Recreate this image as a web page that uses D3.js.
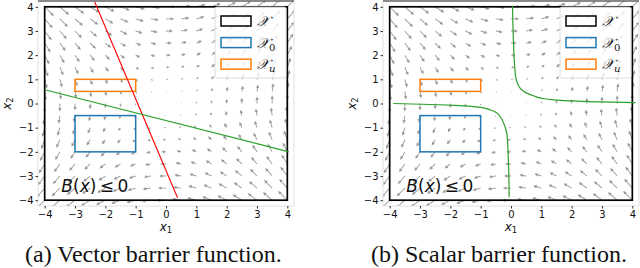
<!DOCTYPE html>
<html><head><meta charset="utf-8">
<script src="https://cdn.jsdelivr.net/npm/d3@7"></script>
<style>
body{margin:0;background:#fff}
svg text{font-family:"DejaVu Sans",sans-serif;fill:#111}
</style></head><body>
<script>
// tick labels and quiver grid
var ticks = [-4, -3, -2, -1, 0, 1, 2, 3, 4];
var gridX = [-4, -3.5, -3, -2.5, -2, -1.5, -1, -0.5, 0, 0.5, 1, 1.5, 2, 2.5, 3, 3.5, 4];
var gridY = [4, 3.5, 3, 2.5, 2, 1.5, 1, 0.5, 0, -0.5, -1, -1.5, -2, -2.5, -3, -3.5, -4];

// panel (a) field, rows top (x2=4) to bottom (x2=-4), columns x1=-4..4
var uA = [
  [4,4,4,4,4,4,4,4,4,4,4,4,4,4,4,4,4],
  [3.5,3.5,3.5,3.5,3.5,3.5,3.5,3.5,3.5,3.5,3.5,3.5,3.5,3.5,3.5,3.5,3.5],
  [3,3,3,3,3,3,3,3,3,3,3,3,3,3,3,3,3],
  [2.5,2.5,2.5,2.5,2.5,2.5,2.5,2.5,2.5,2.5,2.5,2.5,2.5,2.5,2.5,2.5,2.5],
  [2,2,2,2,2,2,2,2,2,2,2,2,2,2,2,2,2],
  [1.5,1.5,1.5,1.5,1.5,1.5,1.5,1.5,1.5,1.5,1.5,1.5,1.5,1.5,1.5,1.5,1.5],
  [1,1,1,1,1,1,1,1,1,1,1,1,1,1,1,1,1],
  [0.5,0.5,0.5,0.5,0.5,0.5,0.5,0.5,0.5,0.5,0.5,0.5,0.5,0.5,0.5,0.5,0.5],
  [0,0,0,0,0,0,0,0,0,0,0,0,0,0,0,0,0],
  [-0.5,-0.5,-0.5,-0.5,-0.5,-0.5,-0.5,-0.5,-0.5,-0.5,-0.5,-0.5,-0.5,-0.5,-0.5,-0.5,-0.5],
  [-1,-1,-1,-1,-1,-1,-1,-1,-1,-1,-1,-1,-1,-1,-1,-1,-1],
  [-1.5,-1.5,-1.5,-1.5,-1.5,-1.5,-1.5,-1.5,-1.5,-1.5,-1.5,-1.5,-1.5,-1.5,-1.5,-1.5,-1.5],
  [-2,-2,-2,-2,-2,-2,-2,-2,-2,-2,-2,-2,-2,-2,-2,-2,-2],
  [-2.5,-2.5,-2.5,-2.5,-2.5,-2.5,-2.5,-2.5,-2.5,-2.5,-2.5,-2.5,-2.5,-2.5,-2.5,-2.5,-2.5],
  [-3,-3,-3,-3,-3,-3,-3,-3,-3,-3,-3,-3,-3,-3,-3,-3,-3],
  [-3.5,-3.5,-3.5,-3.5,-3.5,-3.5,-3.5,-3.5,-3.5,-3.5,-3.5,-3.5,-3.5,-3.5,-3.5,-3.5,-3.5],
  [-4,-4,-4,-4,-4,-4,-4,-4,-4,-4,-4,-4,-4,-4,-4,-4,-4]
];
var vRow = [-4,-3.5,-3,-2.5,-2,-1.5,-1,-0.5,0,0.5,1,1.5,2,2.5,3,3.5,4];
var vA = [vRow,vRow,vRow,vRow,vRow,vRow,vRow,vRow,vRow,vRow,vRow,vRow,vRow,vRow,vRow,vRow,vRow];

// panel (b) field looks the same at this size
var uB = uA;
var vB = vA;

// sets: [x1min, x1max, x2min, x2max]
var setX = [-4, 4, -4, 4];
var setX0 = [-3, -1, -2, -0.5];
var setXu = [-3, -1, 0.5, 1];

// barrier zero level sets
var redLineA = [[-2.35, 4.2], [0.38, -3.9]];
var greenLineA = [[-4, 0.57], [4.05, -2.0]];
var greenLeftB = [[-3.88, 0.0], [-2.95, -0.03], [-1.86, -0.08], [-1.3, -0.12], [-1.0, -0.16], [-0.7, -0.26],
  [-0.49, -0.37], [-0.33, -0.6], [-0.2, -0.95], [-0.13, -1.3], [-0.09, -2.2], [-0.06, -3.88]];
var greenRightB = [[0.05, 4.04], [0.08, 2.6], [0.11, 1.76], [0.16, 1.07], [0.3, 0.64], [0.5, 0.44], [0.76, 0.31],
  [1.0, 0.22], [1.42, 0.15], [2.5, 0.08], [4.1, 0.04]];

var legendNames = ["\u{1D4B3}", "\u{1D4B3}", "\u{1D4B3}"];
var legendSubs = ["", "0", "u"];
var captions = ["(a) Vector barrier function.", "(b) Scalar barrier function."];

var svg = d3.select("body").append("svg").attr("width", 640).attr("height", 268);

var axTop = 1, axBottom = 206;
var panels = [
  { left: 38, right: 294, u: uA, v: vA, cap: captions[0], capX: 25, id: "a" },
  { left: 383, right: 639, u: uB, v: vB, cap: captions[1], capX: 371, id: "b" }
];

function arrowPath(x0, y0, dx, dy) {
  var L = Math.sqrt(dx * dx + dy * dy);
  if (L < 0.01) return "";
  var ex = dx / L, ey = dy / L, nx = -ey, ny = ex;
  var s = Math.min(1, L / 5);           // shrink short arrows
  var w = 0.45 * s, hw = 1.7 * s, hl = 3.4 * s;
  var neck = L - hl;
  var pts = [
    [x0 + nx * w, y0 + ny * w],
    [x0 + ex * neck + nx * w, y0 + ey * neck + ny * w],
    [x0 + ex * neck + nx * hw, y0 + ey * neck + ny * hw],
    [x0 + dx, y0 + dy],
    [x0 + ex * neck - nx * hw, y0 + ey * neck - ny * hw],
    [x0 + ex * neck - nx * w, y0 + ey * neck - ny * w],
    [x0 - nx * w, y0 - ny * w]
  ];
  return "M" + pts.map(function (p) { return p[0].toFixed(2) + "," + p[1].toFixed(2); }).join("L") + "Z";
}

function fmt(d) { return d < 0 ? "\u2212" + (-d) : "" + d; }

panels.forEach(function (p) {
  var x = d3.scaleLinear().domain([-4.22, 4.22]).range([p.left, p.right]);
  var y = d3.scaleLinear().domain([-4.24, 4.24]).range([axBottom, axTop]);
  var g = svg.append("g");

  g.append("clipPath").attr("id", "clip" + p.id).append("rect")
    .attr("x", p.left).attr("y", axTop).attr("width", p.right - p.left).attr("height", axBottom - axTop);

  // quiver
  var k = 2.3;
  var arrows = [];
  gridY.forEach(function (gy, i) {
    gridX.forEach(function (gx, j) {
      arrows.push({ x: gx, y: gy, u: p.u[i][j], v: p.v[i][j] });
    });
  });
  g.append("g").attr("clip-path", "url(#clip" + p.id + ")")
    .selectAll("path").data(arrows).enter().append("path")
    .attr("d", function (d) { return arrowPath(x(d.x), y(d.y), d.u * k, -d.v * k); })
    .attr("fill", "#777").attr("fill-opacity", 0.75);

  // spines
  g.append("rect").attr("x", p.left).attr("y", axTop).attr("width", p.right - p.left).attr("height", axBottom - axTop)
    .attr("fill", "none").attr("stroke", "#e2e2e2").attr("stroke-width", 1);
  g.append("line").attr("x1", p.left).attr("x2", p.right).attr("y1", axTop).attr("y2", axTop)
    .attr("stroke", "#222").attr("stroke-width", 1.2);

  // sets
  function box(s, color, lw) {
    g.append("rect").attr("x", x(s[0])).attr("y", y(s[3]))
      .attr("width", x(s[1]) - x(s[0])).attr("height", y(s[2]) - y(s[3]))
      .attr("fill", "none").attr("stroke", color).attr("stroke-width", lw);
  }
  box(setX, "#000", 1.7);
  box(setX0, "#1f77b4", 1.5);
  box(setXu, "#ff7f0e", 1.5);

  var line = d3.line().x(function (d) { return x(d[0]); }).y(function (d) { return y(d[1]); });
  var cg = g.append("g").attr("clip-path", "url(#clip" + p.id + ")");
  if (p.id === "a") {
    cg.append("path").attr("d", line(redLineA)).attr("fill", "none").attr("stroke", "#f00").attr("stroke-width", 1.1);
    cg.append("path").attr("d", line(greenLineA)).attr("fill", "none").attr("stroke", "#2ca02c").attr("stroke-width", 1.2);
  } else {
    var sm = d3.line().curve(d3.curveMonotoneY).x(function (d) { return x(d[0]); }).y(function (d) { return y(d[1]); });
    cg.append("path").attr("d", sm(greenLeftB)).attr("fill", "none").attr("stroke", "#2ca02c").attr("stroke-width", 1.2);
    cg.append("path").attr("d", sm(greenRightB)).attr("fill", "none").attr("stroke", "#2ca02c").attr("stroke-width", 1.2);
  }

  // legend
  var lx = p.right - 79, ly = axTop + 6;
  var lg = g.append("g");
  lg.append("rect").attr("x", lx).attr("y", ly).attr("width", 71).attr("height", 71).attr("rx", 2)
    .attr("fill", "#fff").attr("fill-opacity", 0.8).attr("stroke", "#d6d6d6").attr("stroke-width", 0.8);
  var lcol = ["#000", "#1f77b4", "#ff7f0e"];
  legendNames.forEach(function (name, i) {
    lg.append("rect").attr("x", lx + 6).attr("y", ly + 9 + i * 21.6).attr("width", 30).attr("height", 10)
      .attr("fill", "none").attr("stroke", lcol[i]).attr("stroke-width", 1.5);
    var t = lg.append("text").attr("x", lx + 42).attr("y", ly + 19 + i * 21.6)
      .style("font-family", "'DejaVu Serif', serif").style("font-size", "14px").style("font-style", "italic");
    t.append("tspan").text(name);
    if (legendSubs[i]) t.append("tspan").attr("dy", 3).style("font-size", "10px")
      .style("font-style", legendSubs[i] === "u" ? "italic" : "normal").text(legendSubs[i]);
  });

  // region label
  var bt = g.append("text").attr("x", x(-3.45)).attr("y", y(-3.65)).style("font-size", "17px");
  bt.append("tspan").style("font-style", "italic").text("B");
  bt.append("tspan").text("(");
  bt.append("tspan").style("font-style", "italic").text("x");
  bt.append("tspan").text(")\u2009\u2264\u20090");

  // axes
  var xa = g.append("g").attr("transform", "translate(0," + axBottom + ")")
    .call(d3.axisBottom(x).tickValues(ticks).tickSize(2.5).tickPadding(2).tickFormat(fmt));
  var ya = g.append("g").attr("transform", "translate(" + p.left + ",0)")
    .call(d3.axisLeft(y).tickValues(ticks).tickSize(2.5).tickPadding(2).tickFormat(fmt));
  [xa, ya].forEach(function (a) {
    a.select(".domain").remove();
    a.selectAll("line").attr("stroke", "#333");
    a.selectAll("text").style("font-size", "10px").style("font-family", "'DejaVu Sans', sans-serif").attr("fill", "#111");
  });

  var xl = g.append("text").attr("x", x(0)).attr("y", 231).attr("text-anchor", "middle").style("font-size", "12px");
  xl.append("tspan").style("font-style", "italic").text("x");
  xl.append("tspan").attr("dy", 2).style("font-size", "8.5px").text("1");
  var yl = g.append("text").attr("transform", "translate(" + (p.left - 27) + "," + y(0) + ") rotate(-90)")
    .attr("text-anchor", "middle").style("font-size", "12px");
  yl.append("tspan").style("font-style", "italic").text("x");
  yl.append("tspan").attr("dy", 2).style("font-size", "8.5px").text("2");

  // caption
  g.append("text").attr("x", p.capX).attr("y", 262)
    .style("font-family", "'Liberation Serif', 'Times New Roman', serif").style("font-size", "24px").text(p.cap);
});
</script>
</body></html>
